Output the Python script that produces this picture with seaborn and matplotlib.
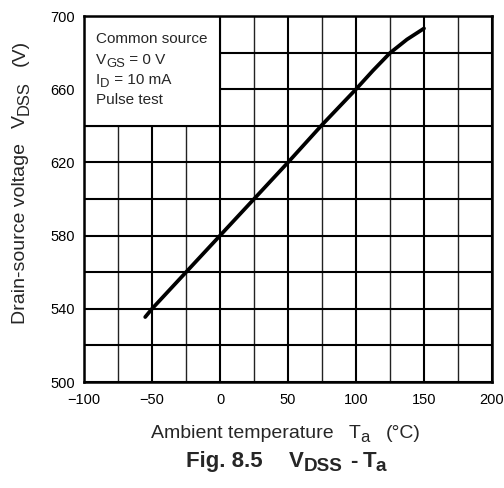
import matplotlib
matplotlib.use("Agg")
import matplotlib.pyplot as plt
import seaborn as sns
import pandas as pd
from matplotlib.patches import Rectangle
from matplotlib.ticker import MultipleLocator
from matplotlib.transforms import IdentityTransform

temps = [-55, -50, -25, 0, 25, 50, 75, 100, 112.5, 125, 137.5, 150]
vdss = [535.5, 540, 560, 580, 600, 620, 640.5, 660, 670.2, 679.8, 687.2, 693.2]
x_ticks = [-100, -50, 0, 50, 100, 150, 200]
y_ticks = [500, 540, 580, 620, 660, 700]

sns.set_style("white")
plt.rcParams['font.family'] = ['Liberation Sans', 'DejaVu Sans']

df = pd.DataFrame({"Ta": temps, "VDSS": vdss})

W, H = 504, 488
fig = plt.figure(figsize=(W / 100, H / 100), dpi=100)
ax = fig.add_axes([84 / W, 1 - 382 / H, 408 / W, 366 / H])

ax.set_xlim(-100, 200)
ax.set_ylim(500, 700)
ax.set_xticks(x_ticks)
ax.set_yticks(y_ticks)
ax.set_xticklabels([str(v).replace('-', '\u2212') for v in x_ticks])
ax.xaxis.set_minor_locator(MultipleLocator(25))
ax.yaxis.set_minor_locator(MultipleLocator(20))
ax.grid(which='major', axis='x', color='black', lw=1.5, zorder=1)
ax.grid(which='minor', axis='x', color='#222222', lw=1.0, zorder=1)
ax.grid(which='both', axis='y', color='black', lw=1.5, zorder=1)
ax.set_axisbelow(True)
ax.tick_params(which='both', length=0, labelsize=10.5, colors='black')
ax.tick_params(axis='x', pad=8)
ax.tick_params(axis='y', pad=6.5)

for s in ax.spines.values():
    s.set_color('black')
    s.set_linewidth(1.8)

ax.add_patch(Rectangle((-100, 640), 100, 60, facecolor='white',
                       edgecolor='black', lw=1.5, zorder=2))

sns.lineplot(data=df, x="Ta", y="VDSS", ax=ax, color='black', lw=2.7, zorder=4)
ax.set_xlabel("")
ax.set_ylabel("")

renderer = fig.canvas.get_renderer()
ident = IdentityTransform()


def rich(x, y, segs, size, weight='normal', rotation=0, ha='center', zorder=5):
    """x, y in pixels from top-left; y (or x when rotated) is baseline."""
    widths = []
    for text, scale, sub, gap in segs:
        t = fig.text(0, 0, text, fontsize=size * scale, fontweight=weight,
                     transform=ident)
        widths.append(t.get_window_extent(renderer).width)
        t.remove()
    total = sum(widths) + sum(g for _, _, _, g in segs)
    px = size * 100 / 72
    if rotation == 0:
        pos = x - total / 2 if ha == 'center' else x
        for (text, scale, sub, gap), w in zip(segs, widths):
            dy = 0.2 * px if sub else 0
            fig.text(pos, H - y - dy, text, fontsize=size * scale,
                     fontweight=weight, ha='left', va='baseline',
                     transform=ident, zorder=zorder)
            pos += w + gap
    else:
        pos = H - y - total / 2
        for (text, scale, sub, gap), w in zip(segs, widths):
            dx = 0.2 * px if sub else 0
            fig.text(x + dx, pos, text, fontsize=size * scale,
                     fontweight=weight, ha='left', va='baseline',
                     rotation=90, rotation_mode='anchor',
                     transform=ident, zorder=zorder)
            pos += w + gap


# legend box text
rich(96, 43, [("Common source", 1, False, 0)], 11, ha='left')
rich(96, 64, [("V", 1, False, 0), ("GS", 0.85, True, 0), (" = 0 V", 1, False, 0)], 11, ha='left')
rich(96, 84, [("I", 1, False, 0), ("D", 0.85, True, 0), (" = 10 mA", 1, False, 0)], 11, ha='left')
rich(96, 104, [("Pulse test", 1, False, 0)], 11, ha='left')

# x label
rich(286, 438, [("Ambient temperature", 1, False, 15), ("T", 1, False, 0),
                ("a", 0.85, True, 16), ("(°C)", 1, False, 0)], 14)
# y label
rich(25, 182, [("Drain-source voltage", 1, False, 15), ("V", 1, False, 0),
               ("DSS", 0.85, True, 15), ("(V)", 1, False, 0)], 14, rotation=90)
# caption
rich(286, 467, [("Fig. 8.5", 1, False, 27), ("V", 1, False, 0),
                ("DSS", 0.85, True, 7), ("-", 1, False, 5), ("T", 1, False, 0),
                ("a", 0.85, True, 0)], 16, weight='bold')

fig.savefig("out.png", dpi=100, facecolor='white')
